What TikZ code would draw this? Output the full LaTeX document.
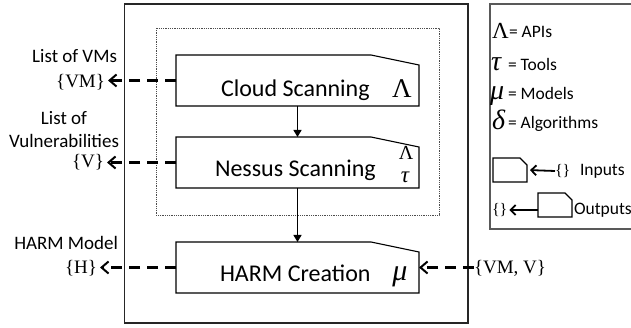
\documentclass[tikz,border=0pt]{standalone}
\usepackage{fontspec}
\setmainfont{Carlito}
\newfontfamily\symfont{Liberation Serif}
\usetikzlibrary{arrows.meta,calc}
\begin{document}
\begin{tikzpicture}[x=1pt,y=-1pt,
  every node/.style={inner sep=0pt, outer sep=0pt},
  lbl/.style={font=\fontsize{19}{22}\selectfont},
  set/.style={font=\symfont\fontsize{19}{22}\selectfont, anchor=base east},
  leg/.style={font=\fontsize{17.5}{21}\selectfont},
  title/.style={font=\fontsize{24}{28}\selectfont, anchor=base west},
  symb/.style={font=\symfont\fontsize{27}{28}\selectfont, anchor=base},
  lsym/.style={font=\symfont\fontsize{23}{23}\selectfont, anchor=base west},
  procbox/.style={minimum width=243pt, minimum height=51pt, anchor=north west},
  iconbox/.style={minimum width=34pt, minimum height=24pt, anchor=north west},
  boxline/.style={line width=1.1pt},
  flow/.style={line width=2.1pt, dash pattern=on 11pt off 7pt, -{Straight Barb[length=7pt,width=12pt,line width=2pt]}},
  down/.style={line width=1.2pt, -{Triangle[length=7pt,width=8pt]}},
  legline/.style={line width=1.8pt, -{Straight Barb[length=5pt,width=10pt,line width=1.8pt]}}
]
\useasboundingbox (0,0) rectangle (631,328);

% frames
\draw[line width=1.4pt, black!85] (124.5,4) rectangle (468,323);
\draw[densely dotted, line width=0.8pt, black!70] (156,28) rectangle (439,215);
\draw[line width=1.8pt, black!65] (640,229) -- (490,229) -- (490,4) -- (640,4);

% process boxes
\node[procbox] (cloud) at (176,55) {};
\node[procbox] (nessus) at (176,137) {};
\node[procbox] (harm) at (176,242) {};
\foreach \n in {cloud,nessus,harm}
  \draw[boxline] (\n.south west) -- (\n.north west) -- ([xshift=-48pt]\n.north east)
    -- ([yshift=-10pt]\n.north east) -- (\n.south east) -- cycle;

\node[title] (cloudtxt) at (221,97) {Cloud Scanning};
\node[symb] (cloudsym) at (402,98) {Λ};
\node[title] (nessustxt) at (215,177) {Nessus Scanning};
\node[font=\symfont\fontsize{20}{20}\selectfont, anchor=base] (nessusup) at (406,160) {Λ};
\node[font=\symfont\itshape\fontsize{23}{23}\selectfont, anchor=base] (nessusdn) at (405,183) {τ};
\node[title] (harmtxt) at (220,282) {HARM Creation};
\node[symb, font=\symfont\itshape\fontsize{30}{30}\selectfont] (harmsym) at (400,281) {μ};

% flow arrows
\draw[down] (cloud.south) -- (nessus.north);
\draw[down] (nessus.south) -- (harm.north);

% left labels
\node[lbl, anchor=base east] (vmlist) at (117,63) {List of VMs};
\node[set] (vmset) at (105,88) {\{VM\}};
\node[lbl, anchor=base] (vlist1) at (64,125) {List of};
\node[lbl, anchor=base] (vlist2) at (64,148) {Vulnerabilities};
\node[set] (vset) at (104,168) {\{V\}};
\node[lbl, anchor=base east] (hlist) at (118,250) {HARM Model};
\node[set] (hset) at (97,274) {\{H\}};
\node[set, anchor=base west] (vmvset) at (474,273) {\{VM, V\}};

\draw[flow, shorten >=3pt] (cloud.west) -- (vmset.east |- cloud.west);
\draw[flow, shorten >=3pt] (nessus.west) -- (vset.east |- nessus.west);
\draw[flow, shorten >=3pt] (harm.west) -- (hset.east |- harm.west);
\draw[flow] (vmvset.west |- harm.east) -- (harm.east);

% legend
\node[lsym] (lapisym) at (492,39) {Λ};
\node[leg, anchor=base west] (lapi) at (509,38) {= APIs};
\node[lsym, font=\symfont\itshape\fontsize{28}{28}\selectfont] (ltoolsym) at (491,71) {τ};
\node[leg, anchor=base west] (ltool) at (508,71) {= Tools};
\node[lsym, font=\symfont\itshape\fontsize{28}{28}\selectfont] (lmodelsym) at (490,100) {μ};
\node[leg, anchor=base west] (lmodel) at (508,100) {= Models};
\node[lsym, font=\symfont\itshape\fontsize{28}{28}\selectfont] (lalgosym) at (492,130) {δ};
\node[leg, anchor=base west] (lalgo) at (508,129) {= Algorithms};

\node[iconbox] (inbox) at (493,158) {};
\node[iconbox] (outbox) at (538,193) {};
\foreach \n in {inbox,outbox}
  \draw[boxline] (\n.south west) -- (\n.north west) -- ([xshift=-7pt]\n.north east)
    -- ([yshift=-7pt]\n.north east) -- (\n.south east) -- cycle;

\node[font=\symfont\fontsize{16}{16}\selectfont, anchor=west] (inset) at (555,171) {\{\}};
\node[leg, anchor=west] (intxt) at (580,171) {Inputs};
\draw[legline, shorten >=3pt] (inset.west) -- (inbox.east);

\node[font=\symfont\fontsize{16}{16}\selectfont, anchor=west] (outset) at (492,210) {\{\}};
\node[leg, anchor=west] (outtxt) at (574,210) {Outputs};
\draw[legline, shorten >=2pt] (outbox.west |- outset.east) -- (outset.east);
\end{tikzpicture}
\end{document}
